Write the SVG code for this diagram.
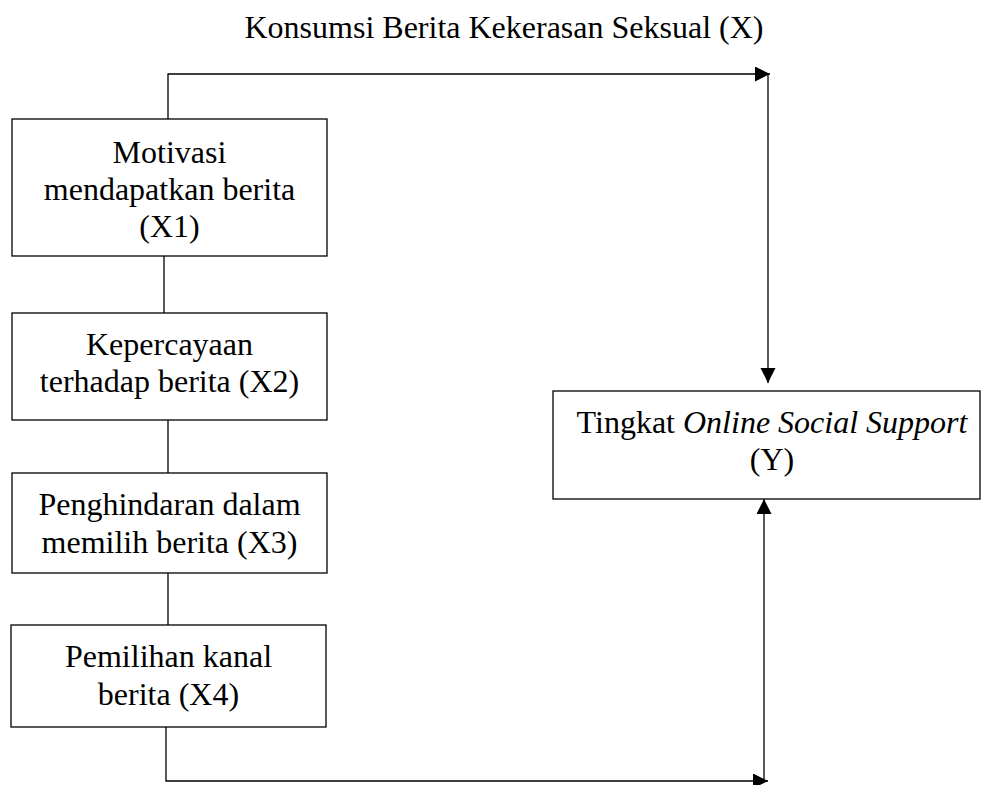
<svg xmlns="http://www.w3.org/2000/svg" width="982" height="785" viewBox="0 0 982 785">
<style>
  .box { fill: #ffffff; stroke: #000000; stroke-width: 1.3; }
  .ln { fill: none; stroke: #000000; stroke-width: 1.3; }
  text { font-family: "Liberation Serif", "Times New Roman", serif; font-size: 32px; fill: #000000; text-anchor: middle; }
</style>
<defs>
  <marker id="ah" markerUnits="userSpaceOnUse" markerWidth="16" markerHeight="16" refX="15" refY="7.5" orient="auto">
    <path d="M0,0 L15,7.5 L0,15 z" fill="#000000"/>
  </marker>
</defs>
<rect width="982" height="785" fill="#ffffff"/>
<text id="title" x="504" y="38">Konsumsi Berita Kekerasan Seksual (X)</text>
<g id="connectors">
  <path class="ln" d="M168,119 V74 H770" marker-end="url(#ah)"/>
  <path class="ln" d="M768,74 V383" marker-end="url(#ah)"/>
  <path class="ln" d="M164,256 V313"/>
  <path class="ln" d="M168,420 V473"/>
  <path class="ln" d="M168,573 V625"/>
  <path class="ln" d="M166,727 V781 H768" marker-end="url(#ah)"/>
  <path class="ln" d="M764,781 V499" marker-end="url(#ah)"/>
</g>
<g id="x1">
  <rect class="box" x="12" y="119" width="315" height="137"/>
  <text x="169.5" y="163">Motivasi</text>
  <text x="169.5" y="200">mendapatkan berita</text>
  <text x="169.5" y="237">(X1)</text>
</g>
<g id="x2">
  <rect class="box" x="12" y="313" width="315" height="107"/>
  <text x="169.5" y="355">Kepercayaan</text>
  <text x="169.5" y="392">terhadap berita (X2)</text>
</g>
<g id="x3">
  <rect class="box" x="12" y="473" width="315" height="100"/>
  <text x="169.5" y="515">Penghindaran dalam</text>
  <text x="169.5" y="553">memilih berita (X3)</text>
</g>
<g id="x4">
  <rect class="box" x="11" y="625" width="315" height="102"/>
  <text x="168.5" y="667">Pemilihan kanal</text>
  <text x="168.5" y="705">berita (X4)</text>
</g>
<g id="y">
  <rect class="box" x="553" y="391" width="427" height="108"/>
  <text x="772" y="433">Tingkat <tspan font-style="italic">Online Social Support</tspan></text>
  <text x="772" y="470">(Y)</text>
</g>
</svg>
